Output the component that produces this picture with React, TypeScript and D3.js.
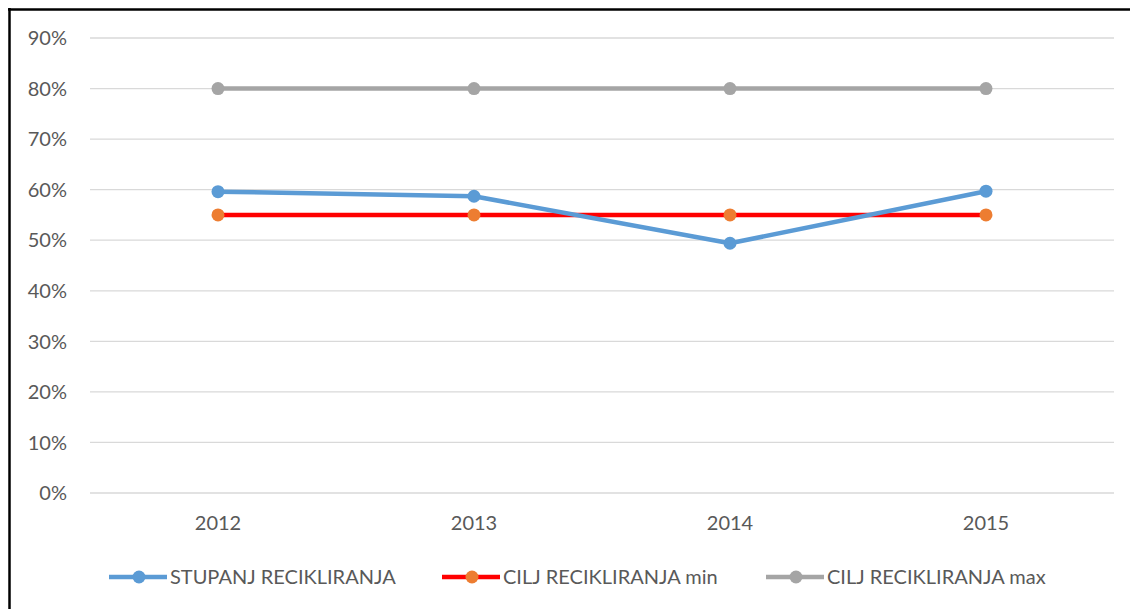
import React from "react";
import * as d3 from "d3";

const categories = ["2012", "2013", "2014", "2015"];
const stupanj = [0.596, 0.587, 0.494, 0.597];
const ciljMin = [0.55, 0.55, 0.55, 0.55];
const ciljMax = [0.8, 0.8, 0.8, 0.8];
const yTicks = [0, 0.1, 0.2, 0.3, 0.4, 0.5, 0.6, 0.7, 0.8, 0.9];

const seriesNames = ["STUPANJ RECIKLIRANJA", "CILJ RECIKLIRANJA min", "CILJ RECIKLIRANJA max"];

const W = 1130;
const H = 609;
const left = 90;
const right = 1114;
const top = 38;
const bottom = 493;
const FONT = "Lato, 'Open Sans', 'Liberation Sans', sans-serif";
const TXT = "#595959";

export default function App() {
  const x = d3.scaleBand<string>().domain(categories).range([left, right]);
  const y = d3.scaleLinear().domain([0, 0.9]).range([bottom, top]);
  const cx = (c: string) => (x(c) as number) + x.bandwidth() / 2;
  const line = d3
    .line<number>()
    .x((_, i) => cx(categories[i]))
    .y((d) => y(d));

  const series = [
    { name: seriesNames[1], data: ciljMin, line: "#FF0000", marker: "#ED7D31" },
    { name: seriesNames[0], data: stupanj, line: "#5B9BD5", marker: "#5B9BD5" },
    { name: seriesNames[2], data: ciljMax, line: "#A5A5A5", marker: "#A5A5A5" },
  ];
  const legend = [
    { name: seriesNames[0], line: "#5B9BD5", marker: "#5B9BD5", x0: 109 },
    { name: seriesNames[1], line: "#FF0000", marker: "#ED7D31", x0: 442 },
    { name: seriesNames[2], line: "#A5A5A5", marker: "#A5A5A5", x0: 766 },
  ];
  const fmt = d3.format(".0%");

  return (
    <svg
      width={W}
      height={H}
      style={{ position: "absolute", left: 0, top: 0, background: "#fff" }}
      fontFamily={FONT}
    >
      <rect x={0} y={0} width={W} height={H} fill="#fff" />
      <line x1={8} x2={W} y1={9.5} y2={9.5} stroke="#000" strokeWidth={2.5} />
      <line x1={9.5} x2={9.5} y1={8} y2={H} stroke="#000" strokeWidth={2.5} />
      {yTicks.map((t) => (
        <g key={t}>
          <line x1={left} x2={right} y1={y(t)} y2={y(t)} stroke="#D9D9D9" strokeWidth={1.3} />
          <text x={67} y={y(t)} dy="0.36em" textAnchor="end" fontSize={20} fill={TXT}>
            {fmt(t)}
          </text>
        </g>
      ))}
      {categories.map((c) => (
        <text key={c} x={cx(c)} y={523} dy="0.36em" textAnchor="middle" fontSize={20} fill={TXT}>
          {c}
        </text>
      ))}
      {series.map((s) => (
        <g key={s.name}>
          <path d={line(s.data) || ""} fill="none" stroke={s.line} strokeWidth={4.5} strokeLinejoin="round" />
          {s.data.map((d, i) => (
            <circle key={i} cx={cx(categories[i])} cy={y(d)} r={6.5} fill={s.marker} />
          ))}
        </g>
      ))}
      {legend.map((l) => (
        <g key={l.name}>
          <line x1={l.x0} x2={l.x0 + 58} y1={577} y2={577} stroke={l.line} strokeWidth={4.5} />
          <circle cx={l.x0 + 30} cy={577} r={6.5} fill={l.marker} />
          <text x={l.x0 + 61} y={577} dy="0.36em" fontSize={20} fill={TXT}>
            {l.name}
          </text>
        </g>
      ))}
    </svg>
  );
}
